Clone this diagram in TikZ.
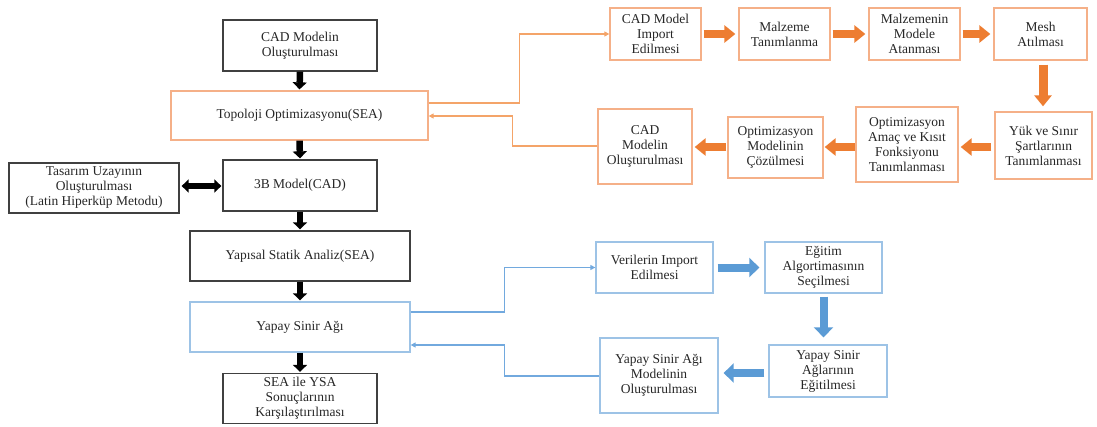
\documentclass[tikz,border=0pt]{standalone}
\usepackage{fontspec}
\setmainfont{Liberation Serif}
\usetikzlibrary{arrows.meta}
\definecolor{boxgray}{HTML}{404040}
\definecolor{orfill}{HTML}{ED7D31}
\definecolor{orline}{HTML}{F4A469}
\definecolor{orbox}{HTML}{F5B088}
\definecolor{blfill}{HTML}{5B9BD5}
\definecolor{blline}{HTML}{72A9DE}
\definecolor{blbox}{HTML}{9DC3E6}

\begin{document}
\begin{tikzpicture}[x=1pt,y=-1pt,
  every node/.style={font=\fontsize{13.5}{15}\selectfont, align=center, inner sep=0pt, text=black!85},
  sz/.style 2 args={minimum width=#1, minimum height=#2},
  bbox/.style={draw=boxgray, line width=1.3pt},
  obox/.style={draw=orbox, line width=1.3pt},
  bluebox/.style={draw=blbox, line width=1.3pt},
  karrow/.style={line width=6.5pt, draw=black, -{Triangle[length=7pt,width=14pt]}},
  kdouble/.style={line width=5.5pt, draw=black, {Triangle[length=7pt,width=13pt]}-{Triangle[length=7pt,width=13pt]}},
  oarrow/.style={line width=7.5pt, draw=orfill, -{Triangle[length=11pt,width=17pt]}},
  barrow/.style={line width=8pt, draw=blfill, -{Triangle[length=10pt,width=19pt]}},
  othin/.style={draw=orline, line width=1.3pt, -{Triangle[length=5pt,width=5pt]}},
  bthin/.style={draw=blline, line width=1.3pt, -{Triangle[length=5pt,width=5pt]}},
]
\useasboundingbox (0,0) rectangle (1097,426);

% main column
\node[bbox, sz={154}{51}] (cad) at (300,45.5) {CAD Modelin\\Oluşturulması};
\node[obox, sz={257}{49}] (topo) at (299.5,115.5) {Topoloji Optimizasyonu(SEA)};
\node[bbox, sz={154}{51}] (model) at (300,185.5) {3B Model(CAD)};
\node[bbox, sz={170}{50}] (tasarim) at (94,188) {Tasarım Uzayının\\Oluşturulması\\(Latin Hiperküp Metodu)};
\node[bbox, sz={220}{50}] (yapisal) at (300,256) {Yapısal Statik Analiz(SEA)};
\node[bluebox, sz={220}{50}] (ysa) at (300,327) {Yapay Sinir Ağı};
\node[bbox, sz={154}{50}] (sea) at (300,398.5) {SEA ile YSA\\Sonuçlarının\\Karşılaştırılması};

% topology optimisation steps
\node[obox, sz={91}{52}] (o1) at (655.5,34) {CAD Model\\Import\\Edilmesi};
\node[obox, sz={91}{52}] (o2) at (784.5,34) {Malzeme\\Tanımlanma};
\node[obox, sz={91}{52}] (o3) at (914.5,34) {Malzemenin\\Modele\\Atanması};
\node[obox, sz={93}{52}] (o4) at (1040.5,34) {Mesh\\Atılması};
\node[obox, sz={97}{67}] (o5) at (1043.5,145.5) {Yük ve Sınır\\Şartlarının\\Tanımlanması};
\node[obox, sz={102}{75}] (o6) at (907,144.5) {Optimizasyon\\Amaç ve Kısıt\\Fonksiyonu\\Tanımlanması};
\node[obox, sz={95}{61}] (o7) at (775.5,147.5) {Optimizasyon\\Modelinin\\Çözülmesi};
\node[obox, sz={94}{75}] (o8) at (645,146.5) {CAD\\Modelin\\Oluşturulması};

% neural network steps
\node[bluebox, sz={117}{51}] (b1) at (654.5,267.5) {Verilerin Import\\Edilmesi};
\node[bluebox, sz={117}{51}] (b2) at (823.5,267.5) {Eğitim\\Algortimasının\\Seçilmesi};
\node[bluebox, sz={118}{52}] (b3) at (828,371) {Yapay Sinir\\Ağlarının\\Eğitilmesi};
\node[bluebox, sz={118}{75}] (b4) at (659,375.5) {Yapay Sinir Ağı\\Modelinin\\Oluşturulması};

% main column arrows
\draw[karrow, shorten >=1pt] (cad.south) -- (topo.north);
\draw[karrow, shorten >=1pt] (topo.south) -- (model.north);
\draw[karrow, shorten >=1pt] (model.south) -- (yapisal.north);
\draw[karrow, shorten >=1pt] (yapisal.south) -- (ysa.north);
\draw[karrow, shorten >=1pt] (ysa.south) -- (sea.north);
\draw[kdouble, shorten <=2pt, shorten >=1pt] (tasarim.east |- 0,186) -- (model.west |- 0,186);

% orange block arrows
\draw[oarrow, shorten <=2pt, shorten >=3pt] (o1.east) -- (o2.west);
\draw[oarrow, shorten <=2pt, shorten >=3pt] (o2.east) -- (o3.west);
\draw[oarrow, shorten <=2pt, shorten >=3pt] (o3.east) -- (o4.west);
\draw[oarrow, line width=9pt, shorten <=4pt, shorten >=5pt] (o4.south -| 1043,0) -- (o5.north -| 1043,0);
\draw[oarrow, shorten <=3pt, shorten >=2pt] (o5.west |- 0,147) -- (o6.east |- 0,147);
\draw[oarrow, shorten <=0pt, shorten >=1pt] (o6.west |- 0,147) -- (o7.east |- 0,147);
\draw[oarrow, shorten <=1pt, shorten >=2pt] (o7.west |- 0,147) -- (o8.east |- 0,147);

% blue block arrows
\draw[barrow, shorten <=4pt, shorten >=5pt] (b1.east) -- (b2.west);
\draw[barrow, shorten <=3pt, shorten >=7pt] (b2.south) -- (b2.south |- b3.north);
\draw[barrow, shorten <=4pt, shorten >=5pt] (b3.west |- 0,373) -- (b4.east |- 0,373);

% thin connectors
\draw[othin] (topo.east |- 0,103) -- ++(91,0) |- (o1.west);
\draw[othin] (o8.west |- 0,146) -- ++(-85,0) |- (topo.east |- 0,116);
\draw[bthin] (ysa.east |- 0,312) -- ++(94,0) |- (b1.west);
\draw[bthin] (b4.west |- 0,376) -- ++(-95,0) |- (ysa.east |- 0,345);
\end{tikzpicture}
\end{document}
